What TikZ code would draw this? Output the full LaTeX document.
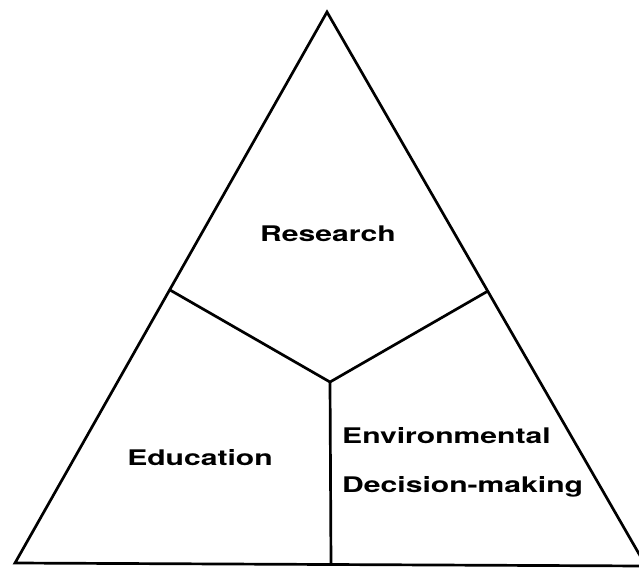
\documentclass[tikz,border=0pt]{standalone}
\usepackage{fontspec}
\setmainfont{TeX Gyre Heros}[FakeStretch=1.4]
\usetikzlibrary{positioning}

\begin{document}
\begin{tikzpicture}[x=1pt,y=1pt]
\useasboundingbox (0,0) rectangle (639,-568);
\clip (0,0) rectangle (639,-568);
\tikzset{edge/.style={line width=2.7pt, line join=miter}, lab/.style={font=\fontsize{21.5}{24}\selectfont\bfseries, inner sep=0pt}}
\coordinate (top) at (327,-12);
\coordinate (bl) at (15,-563);
\coordinate (br) at (646,-566);
\coordinate (l) at (170,-290);
\coordinate (r) at (488,-291);
\coordinate (c) at (330,-382);
\coordinate (b) at (331,-565);
\draw[edge] (top) - - (bl) - - (br) - - cycle;
\draw[edge] (l) - - (c) - - (r);
\draw[edge] (c) - - (b);
\node[lab, anchor=base] (res) at (328,-241) {Research};
\node[lab, anchor=base] (edu) at (200,-465) {Education};
\node[lab, anchor=base west] (env) at (342,-443) {Environmental};
\node[lab, anchor=base west] (dec) at (342,-492) {Decision-making};
\end{tikzpicture}
\end{document}
